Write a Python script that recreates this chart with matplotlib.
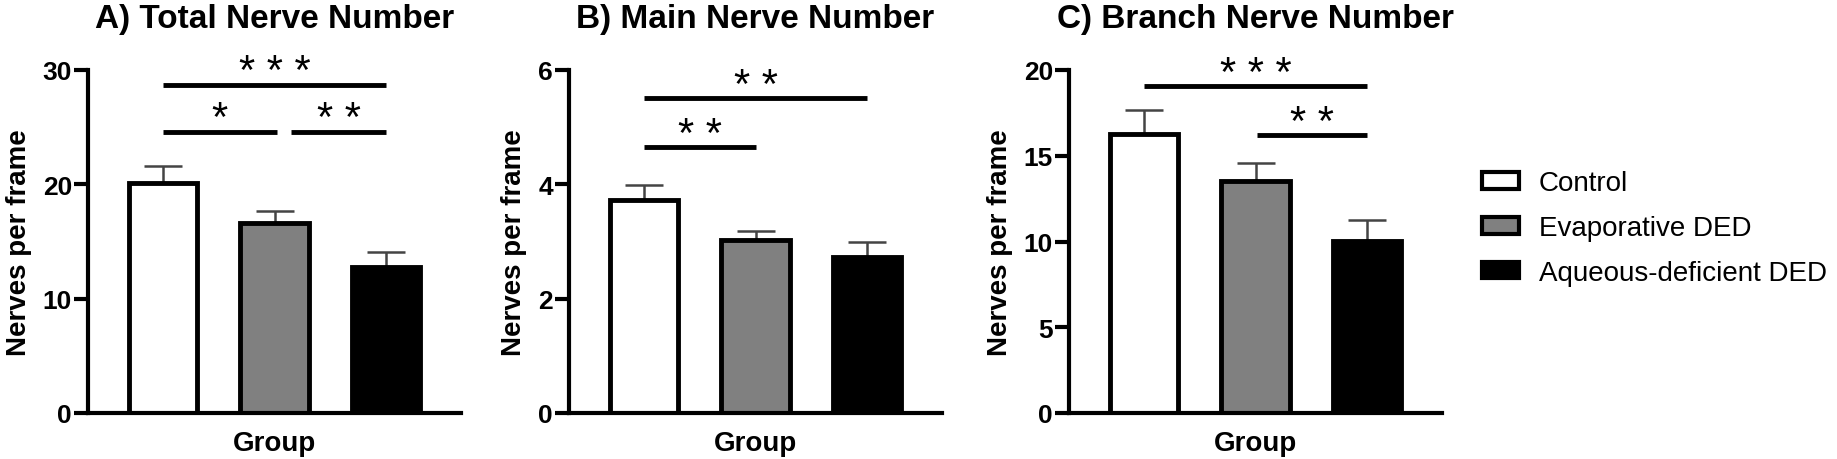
import numpy as np
import matplotlib.pyplot as plt
from matplotlib.patches import Patch

plt.rcParams['font.family'] = ['Liberation Sans', 'DejaVu Sans']

groups = ['Control', 'Evaporative DED', 'Aqueous-deficient DED']
bar_colors = ['white', '#808080', 'black']

total_mean = [20.1, 16.6, 12.8]
total_sem = [1.5, 1.1, 1.3]
main_mean = [3.72, 3.02, 2.73]
main_sem = [0.27, 0.17, 0.26]
branch_mean = [16.24, 13.5, 10.04]
branch_sem = [1.43, 1.08, 1.23]

# significance brackets: (from group, to group, height, stars)
total_sig = [(0, 2, 28.7, '* * *'), (0, 1.02, 24.6, '*'), (1.15, 2, 24.6, '* *')]
main_sig = [(0, 2, 5.51, '* *'), (0, 1.0, 4.65, '* *')]
branch_sig = [(0, 2, 19.07, '* * *'), (1.01, 2, 16.2, '* *')]

panels = [
    ('A) Total Nerve Number', total_mean, total_sem, total_sig, 30, [0, 10, 20, 30]),
    ('B) Main Nerve Number', main_mean, main_sem, main_sig, 6, [0, 2, 4, 6]),
    ('C) Branch Nerve Number', branch_mean, branch_sem, branch_sig, 20, [0, 5, 10, 15, 20]),
]
lefts = [88, 569, 1069]

W, H = 1837, 460
fig = plt.figure(figsize=(W / 100, H / 100), dpi=100)

for (title, mean, sem, sig, ymax, yticks), left in zip(panels, lefts):
    ax = fig.add_axes([left / W, 46 / H, 373 / W, 343 / H])
    x = np.arange(len(groups))
    ax.errorbar(x, mean, yerr=[np.zeros(len(sem)), sem], fmt='none',
                ecolor='#444444', elinewidth=1.8, capsize=13.5, capthick=1.8, zorder=1)
    ax.bar(x, mean, width=0.61, color=bar_colors, edgecolor='black', linewidth=3.5, zorder=2)

    for x0, x1, y, stars in sig:
        ax.plot([x0, x1], [y, y], color='black', lw=3.5, solid_capstyle='butt', clip_on=False)
        ax.annotate(stars, xy=((x0 + x1) / 2, y), xytext=(0, 1), textcoords='offset points',
                    ha='center', va='baseline', fontsize=30, annotation_clip=False)

    ax.set_xlim(-0.67, 2.67)
    ax.set_ylim(0, ymax)
    ax.set_yticks(yticks)
    ax.set_xticks([])
    for s in ['top', 'right']:
        ax.spines[s].set_visible(False)
    for s in ['left', 'bottom']:
        ax.spines[s].set_linewidth(3)
    ax.tick_params(axis='y', direction='out', length=10, width=3, pad=1.5, labelsize=19)
    for lab in ax.get_yticklabels():
        lab.set_fontweight('bold')
    ax.set_ylabel('Nerves per frame', fontsize=20, fontweight='bold', labelpad=8)
    ax.set_xlabel('Group', fontsize=20, fontweight='bold', labelpad=12)
    ax.set_title(title, fontsize=24, fontweight='bold', pad=31)

handles = [Patch(facecolor=c, edgecolor='black', linewidth=3) for c in bar_colors]
fig.legend(handles, groups, loc='center left', bbox_to_anchor=(1482 / W, 0.502),
           frameon=False, fontsize=20, handlelength=1.33, handleheight=0.54,
           handletextpad=0.72, labelspacing=0.67, borderpad=0, borderaxespad=0)

fig.savefig('out.png', dpi=100)
